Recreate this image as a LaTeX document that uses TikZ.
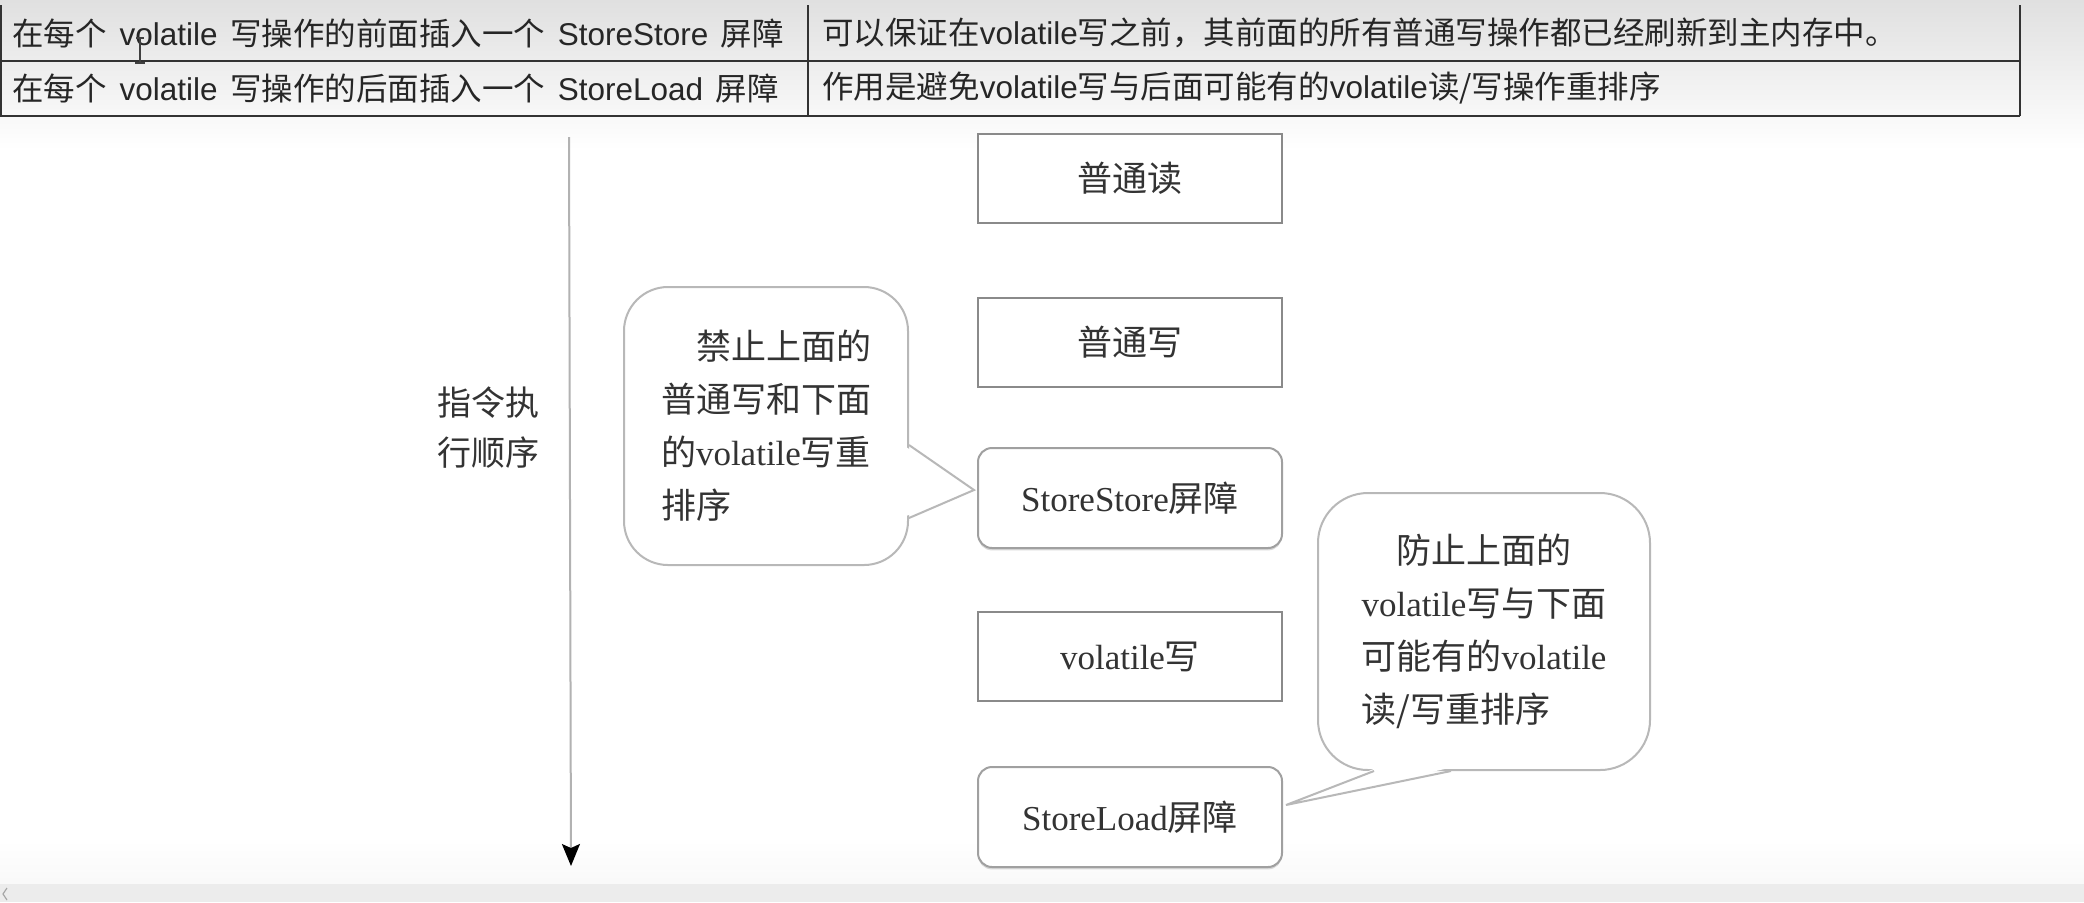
\documentclass[tikz,border=0pt]{standalone}
\usepackage{fontspec}
\setmainfont{Liberation Serif}
\newfontfamily\cjk{Noto Sans CJK SC}
\newfontfamily\arialf{Liberation Sans}
\newcommand{\zhtxt}[1]{{\cjk #1}}
\usetikzlibrary{arrows.meta,shadows,calc}
\definecolor{txt}{HTML}{333333}
\definecolor{tline}{HTML}{333333}
\definecolor{boxline}{HTML}{8A8A8A}
\definecolor{rboxline}{HTML}{A0A0A0}
\definecolor{bubline}{HTML}{B8B8B8}
\definecolor{barbg}{HTML}{ECECEC}
\definecolor{topbg}{HTML}{E0E0E0}
\begin{document}
\begin{tikzpicture}[x=0.5pt,y=-0.5pt,
  cell/.style={anchor=west, inner sep=0pt, font=\arialf\fontsize{15.75pt}{18pt}\selectfont, text=black!85},
  opbox/.style={draw=boxline, line width=1pt, minimum width=152pt, minimum height=44.5pt, inner sep=0pt, text=txt, font=\fontsize{17.5pt}{20pt}\selectfont, fill=white},
  barbox/.style={opbox, rounded corners=7pt, minimum height=50pt, draw=rboxline, drop shadow={shadow xshift=0pt, shadow yshift=-1.2pt, fill=gray!50, opacity=0.6}},
  bubble/.style={draw=bubline, line width=1pt, rounded corners=22pt, fill=white, inner sep=0pt, text=txt, align=left, font=\fontsize{17.5pt}{26.5pt}\selectfont},
  tailline/.style={draw=bubline, line width=1pt, line join=miter},
  tableline/.style={draw=tline, line width=1pt}
]
\useasboundingbox (0,0) rectangle (2084,902);
\fill[white] (0,0) rectangle (2084,902);
\shade[top color=topbg, bottom color=white] (0,0) rectangle (2084,150);
\shade[top color=white, bottom color=gray!5] (0,840) rectangle (2084,884);
\fill[barbg] (0,884) rectangle (2084,902);
\draw[gray!70, line width=0.6pt] (7,888) -- (3,894) -- (7,900);

% table
\draw[tableline] (1,5) -- (1,116);
\draw[tableline] (808,5) -- (808,116);
\draw[tableline] (2020,5) -- (2020,116);
\draw[tableline] (0,61) -- (2020,61);
\draw[tableline] (0,116) -- (2020,116);

\node[cell] (r1c1) at (12,33) {\zhtxt{在每个}\hspace{0.4em}volatile\hspace{0.4em}\zhtxt{写操作的前面插入一个}\hspace{0.4em}StoreStore\hspace{0.4em}\zhtxt{屏障}};
\node[cell] (r1c2) at (822,33) {\zhtxt{可以保证在}volatile\zhtxt{写之前，其前面的所有普通写操作都已经刷新到主内存中。}};
\node[cell] (r2c1) at (12,88) {\zhtxt{在每个}\hspace{0.4em}volatile\hspace{0.4em}\zhtxt{写操作的后面插入一个}\hspace{0.4em}StoreLoad\hspace{0.4em}\zhtxt{屏障}};
\node[cell] (r2c2) at (822,88) {\zhtxt{作用是避免}volatile\zhtxt{写与后面可能有的}volatile\zhtxt{读/写操作重排序}};

% text cursor
\draw[black!75, line width=0.7pt] (136,38) -- (144,38) (140,38) -- (140,63) (135,63) -- (145,63);

% execution order arrow
\coordinate (atop) at (569,137);
\coordinate (abot) at (571,866);
\draw[gray!60, line width=1pt, -{Stealth[length=11pt,width=9pt,inset=2pt,color=black]}] (atop) -- (abot);
\node[font=\cjk\fontsize{17pt}{25pt}\selectfont, text=txt, align=center, inner sep=0pt] (order) at (488,428) {指令执\\行顺序};

% operation boxes
\node[opbox] (nr) at (1130,178.5) {\zhtxt{普通读}};
\node[opbox] (nw) at (1130,342) {\zhtxt{普通写}};
\node[barbox] (ss) at (1130,498) {StoreStore\zhtxt{屏障}};
\node[opbox] (vw) at (1130,656.5) {volatile\zhtxt{写}};
\node[barbox] (sl) at (1130,817) {StoreLoad\zhtxt{屏障}};

% bubble 1
\node[bubble, minimum width=142pt, minimum height=139pt] (b1) at (766,426)
  {\zhtxt{\hspace*{1em}禁止上面的}\\ \zhtxt{普通写和下面}\\ \zhtxt{的}volatile\zhtxt{写重}\\ \zhtxt{排序}};
\coordinate (t1a) at ($(b1.east)+(0,19)$);
\coordinate (t1b) at ($(b1.east)+(0,92)$);
\coordinate (t1tip) at ($(ss.west)+(-3,-8)$);
\fill[white] ($(t1a)+(-3,2)$) -- (t1tip) -- ($(t1b)+(-3,-2)$) -- cycle;
\draw[tailline] (t1a) -- (t1tip) -- (t1b);

% bubble 2
\node[bubble, minimum width=166pt, minimum height=138.5pt, rounded corners=25pt] (b2) at (1484,631.5)
  {\zhtxt{\hspace*{1em}防止上面的}\\ volatile\zhtxt{写与下面}\\ \zhtxt{可能有的}volatile\\ \zhtxt{读/写重排序}};
\coordinate (t2a) at ($(b2.south)+(-110,0)$);
\coordinate (t2b) at ($(b2.south)+(-33,0)$);
\coordinate (t2tip) at ($(sl.east)+(3,-12)$);
\fill[white] ($(t2a)+(2,-3)$) -- (t2tip) -- ($(t2b)+(-2,-3)$) -- cycle;
\draw[tailline] (t2a) -- (t2tip) -- (t2b);
\end{tikzpicture}
\end{document}
